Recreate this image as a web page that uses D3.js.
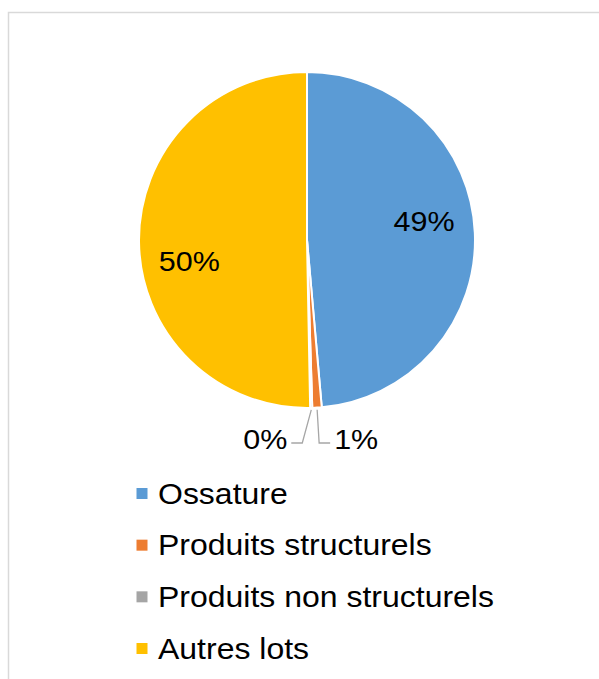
<!DOCTYPE html>
<html><head><meta charset="utf-8">
<script src="https://cdn.jsdelivr.net/npm/d3@7"></script>
<style>html,body{margin:0;padding:0;background:#fff;}svg{display:block;}</style>
</head><body>
<svg id="c" width="599" height="679"></svg>
<script>
const categories = ["Ossature", "Produits structurels", "Produits non structurels", "Autres lots"];
const values = [48.6, 0.9, 0.2, 50.3];
const labels = ["49%", "1%", "0%", "50%"];
const colors = ["#5B9BD5", "#ED7D31", "#A5A5A5", "#FFC000"];

const svg = d3.select("#c");
const font = "Liberation Sans, Arial, sans-serif";
const sx = 1.07; // horizontal stretch of the original text

function txt(parent, x, y, s, size, anchor) {
  return parent.append("text")
    .attr("transform", `translate(${x},${y}) scale(${sx},1)`)
    .attr("text-anchor", anchor).attr("dominant-baseline", "central")
    .attr("font-family", font).attr("font-size", size).attr("fill", "#000")
    .text(s);
}

// frame
svg.append("path").attr("d", "M8.5,700 V12.5 H620")
  .attr("fill", "none").attr("stroke", "#D9D9D9").attr("stroke-width", 1.5);

const cx = 307, cy = 240, R = 168;
const g = svg.append("g").attr("transform", `translate(${cx},${cy})`);
const pie = d3.pie().sort(null).value(d => d)(values);
const arc = d3.arc().innerRadius(0).outerRadius(R);

g.selectAll("path.s").data(pie).enter().append("path")
  .attr("d", arc).attr("fill", (d, i) => colors[i])
  .attr("stroke", "#fff").attr("stroke-width", 2).attr("stroke-linejoin", "round");

// inside labels for large slices
pie.forEach((d, i) => {
  if (values[i] < 5) return;
  const a = (d.startAngle + d.endAngle) / 2 - 0.14;
  const r = 119;
  txt(g, Math.sin(a) * r, -Math.cos(a) * r + 3, labels[i], 28.5, "middle");
});

// outside labels with leader lines for small slices
pie.forEach((d, i) => {
  if (values[i] >= 5) return;
  const a = (d.startAngle + d.endAngle) / 2;
  const px = Math.sin(a) * (R + 2), py = -Math.cos(a) * (R + 2);
  const dir = i === 1 ? 1 : -1;
  const ey = R + 35;
  const ex = px + (dir > 0 ? 2 : -9);
  const tx = ex + dir * 11;
  g.append("polyline").attr("points", `${px},${py} ${ex},${ey} ${tx},${ey}`)
    .attr("fill", "none").attr("stroke", "#A6A6A6").attr("stroke-width", 1.3);
  txt(g, tx + dir * 4, ey - 4, labels[i], 28.5, dir > 0 ? "start" : "end");
});

// legend
const ly = d3.scalePoint().domain(categories).range([493.5, 648.5]);
const lg = svg.append("g");
categories.forEach((c, i) => {
  lg.append("rect").attr("x", 136.5).attr("y", ly(c) - 5.5).attr("width", 11).attr("height", 11)
    .attr("fill", colors[i]);
  txt(lg, 158, ly(c), c, 29.9, "start");
});
</script>
</body></html>
